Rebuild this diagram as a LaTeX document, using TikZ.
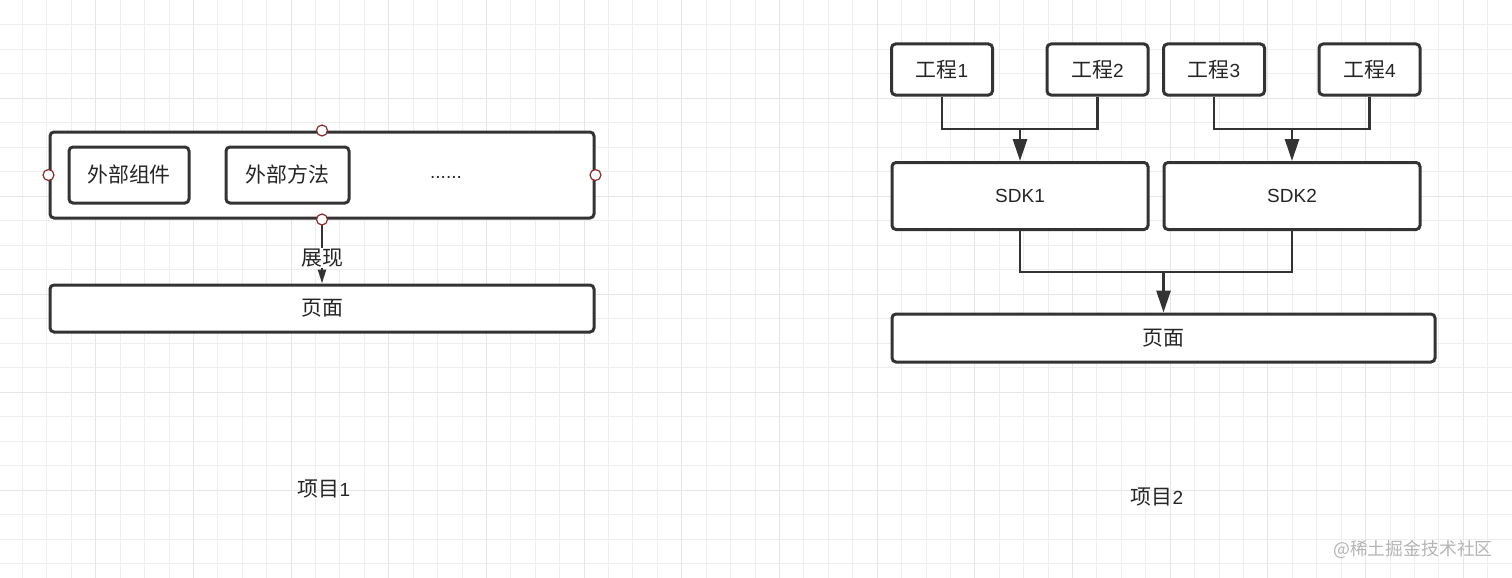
\documentclass[tikz,border=0pt]{standalone}
\usepackage{fontspec}
\setmainfont{Liberation Sans}
\newfontfamily\cjk[Scale=1.1]{Noto Sans CJK SC}
\usetikzlibrary{arrows.meta}
\definecolor{linegray}{HTML}{333333}
\definecolor{textgray}{HTML}{262626}
\definecolor{portred}{HTML}{8B2B2B}
\definecolor{gridgray}{HTML}{EEEEEE}
\definecolor{gridgrayB}{HTML}{E6E6E6}
\definecolor{markgray}{HTML}{B5B5B5}

\begin{document}
\begin{tikzpicture}
  [x=1pt,y=-1pt,
   every node/.style={font=\fontsize{19}{22}\selectfont,text=textgray},
   box/.style={draw=linegray,line width=3pt,rounded corners=4pt,fill=white,inner sep=0pt},
   port/.style={circle,draw=portred,fill=white,line width=1.2pt,minimum size=11pt,inner sep=0pt},
   link/.style={draw=linegray,line width=2.8pt},
   arr/.style={link,-{Triangle[length=22pt,width=14pt]}},
   gridline/.style={draw=gridgray,line width=1.2pt}]
  \fill[white] (0,0) rectangle (1512,578);
  \useasboundingbox (0,0) rectangle (1512,578);

  % grid
  \foreach \i [evaluate=\i as \gx using {round(22+24.42*\i)+0.5}] in {0,...,61}
    \draw[gridline] (\gx,0) -- (\gx,578);
  \foreach \i [evaluate=\i as \gy using {round(24+24.5*\i)+0.5}] in {0,...,22}
    \draw[gridline] (0,\gy) -- (1512,\gy);
  \foreach \i [evaluate=\i as \gx using {round(22+24.42*\i)+0.5}] in {3,7,...,59}
    \draw[gridline,draw=gridgrayB] (\gx,0) -- (\gx,578);
  \foreach \i [evaluate=\i as \gy using {round(24+24.5*\i)+0.5}] in {3,7,...,19}
    \draw[gridline,draw=gridgrayB] (0,\gy) -- (1512,\gy);

  % project 1
  \node[box,minimum width=544pt,minimum height=86pt] (wrap) at (322,175) {};
  \node[box,minimum width=120pt,minimum height=56pt] (comp) at (129,175) {\cjk 外部组件};
  \node[box,minimum width=123pt,minimum height=56pt] (meth) at (287.5,175) {\cjk 外部方法};
  \node (dots) at (446,177) {......};
  \node[box,minimum width=544pt,minimum height=47pt] (page1) at (322,308.5) {\cjk 页面};
  \draw[link,line width=2.2pt,-{Triangle[length=14pt,width=8pt]}] (wrap.south) --
    node[pos=0.6,fill=white,inner sep=1pt] (show) {\cjk 展现} (page1.north);
  \foreach \a in {north,south,east,west}
    \node[port] (port-\a) at (wrap.\a) {};
  \node (title1) at (324,489) {{\cjk 项目}1};

  % project 2
  \node[box,minimum width=101pt,minimum height=51pt] (eng1) at (942,69.5) {{\cjk 工程}1};
  \node[box,minimum width=101pt,minimum height=51pt] (eng2) at (1097.5,69.5) {{\cjk 工程}2};
  \node[box,minimum width=101pt,minimum height=51pt] (eng3) at (1214,69.5) {{\cjk 工程}3};
  \node[box,minimum width=101pt,minimum height=51pt] (eng4) at (1369.5,69.5) {{\cjk 工程}4};
  \node[box,minimum width=256pt,minimum height=67pt] (sdk1) at (1020,196) {SDK1};
  \node[box,minimum width=256pt,minimum height=67pt] (sdk2) at (1292,196) {SDK2};
  \node[box,minimum width=543pt,minimum height=48pt] (page2) at (1163.5,338) {\cjk 页面};
  \coordinate (j1) at (1020,129);
  \coordinate (j2) at (1292,129);
  \coordinate (j3) at (1163.5,272);

  \foreach \from/\to in {eng1/j1,eng2/j1,eng3/j2,eng4/j2,sdk1/j3,sdk2/j3}
    \draw[link] (\from.south) |- (\to);
  \foreach \from/\to in {j1/sdk1,j2/sdk2,j3/page2}
    \draw[arr] (\from) -- (\to.north);
  \node (title2) at (1157,497) {{\cjk 项目}2};

  \node[text=markgray,font=\fontsize{16.2}{19}\selectfont\cjk] (mark) at (1413,549) {@稀土掘金技术社区};
\end{tikzpicture}
\end{document}
